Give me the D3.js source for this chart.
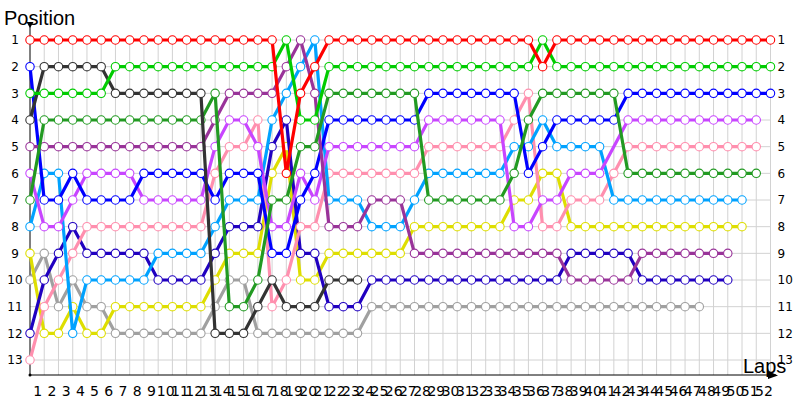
<!DOCTYPE html>
<html>
<head>
<meta charset="utf-8">
<script src="https://cdn.jsdelivr.net/npm/d3@7"></script>
<style>
  body { margin: 0; background: #fff; }
  #container { width: 800px; height: 400px; }
</style>
</head>
<body>
<div id="container"></div>
<script>

// laps on the x axis (0 = grid)
var lapTicks = [1,2,3,4,5,6,7,8,9,10,11,12,13,14,15,16,17,18,19,20,21,22,23,24,25,26,
  27,28,29,30,31,32,33,34,35,36,37,38,39,40,41,42,43,44,45,46,47,48,49,50,51,52]
var positionTicks = [1,2,3,4,5,6,7,8,9,10,11,12,13]

// position of each car from lap 0 onward (null = no reading)
var red = [1,1,1,1,1,1,1,1,1,1,1,1,1,1,1,1,1,1,6,3,2,1,1,1,1,1,1,1,1,1,1,1,1,1,1,1,2,
  1,1,1,1,1,1,1,1,1,1,1,1,1,1,1,1]
var green = [3,3,3,3,3,3,2,2,2,2,2,2,2,2,2,2,2,2,1,4,4,2,2,2,2,2,2,2,2,2,2,2,2,2,2,2,1,
  2,2,2,2,2,2,2,2,2,2,2,2,2,2,2,2]
var black = [4,2,2,2,2,2,3,3,3,3,3,3,3,12,12,12,11,10,11,11,11,10,10,10]
var darkGreen = [7,4,4,4,4,4,4,4,4,4,4,4,4,3,11,11,10,7,7,5,5,3,3,3,3,3,3,3,7,7,7,7,7,7,
  6,4,3,3,3,3,3,3,6,6,6,6,6,6,6,6,6,6]
var purple = [5,5,5,5,5,5,5,5,5,5,5,5,5,4,3,3,3,3,2,1,3,8,8,8,7,7,7,9,9,9,9,9,9,9,9,9,9,
  9,10,10,10,10,10,9,9,9,9,9,9,9]
var magenta = [6,8,8,7,6,6,6,6,7,7,7,7,7,5,4,4,5,8,8,6,7,5,5,5,5,5,5,5,4,4,4,4,4,4,8,8,
  7,7,6,6,6,null,4,4,4,4,4,4,4,4,4,4]
var blue = [2,7,7,6,7,7,7,7,6,6,6,6,6,7,6,6,6,9,9,7,6,4,4,4,4,4,4,4,3,3,3,3,3,3,3,6,5,
  4,4,4,4,4,3,3,3,3,3,3,3,3,3,3,3]
var lightBlue = [8,6,6,12,10,10,10,10,10,9,9,9,9,8,7,7,7,4,3,2,1,7,7,7,8,8,8,7,6,6,6,6,6,6,
  5,5,4,5,5,5,5,7,7,7,7,7,7,7,7,7,7]
var navy = [12,10,9,8,9,9,9,9,9,10,10,10,10,9,8,8,8,5,4,9,9,11,11,11,10,10,10,10,10,10,10,
  10,10,10,10,10,10,10,9,9,9,9,9,10,10,10,10,10,10,10]
var pink = [13,11,10,9,8,8,8,8,8,8,8,8,8,6,5,5,4,11,10,8,8,6,6,6,6,6,6,6,5,5,5,5,5,5,4,3,
  8,8,7,7,7,6,5,5,5,5,5,5,5,5,5,5]
var yellow = [9,12,12,11,12,12,11,11,11,11,11,11,11,10,9,9,9,6,5,10,10,9,9,9,9,9,9,8,8,8,8,
  8,8,8,7,7,6,6,8,8,8,8,8,8,8,8,8,8,8,8,8]
var grey = [10,9,11,10,11,11,12,12,12,12,12,12,12,11,10,10,12,12,12,12,12,12,12,12,11,11,
  11,11,11,11,11,11,11,11,11,11,11,11,11,11,11,11,11,11,11,11,11,11]

// draw order and colours
var cars = [
  {name: "grey", color: "#a0a0a0", laps: grey},
  {name: "yellow", color: "#dede00", laps: yellow},
  {name: "navy", color: "#2000c0", laps: navy},
  {name: "pink", color: "#ff8fae", laps: pink},
  {name: "lightBlue", color: "#00a2ff", laps: lightBlue},
  {name: "magenta", color: "#c845ff", laps: magenta},
  {name: "blue", color: "#0000ff", laps: blue},
  {name: "purple", color: "#993399", laps: purple},
  {name: "darkGreen", color: "#229a22", laps: darkGreen},
  {name: "black", color: "#333333", laps: black},
  {name: "green", color: "#00cc00", laps: green},
  {name: "red", color: "#ff0000", laps: red}
]

var width = 800
var height = 400
var axisY = 375

var x = d3.scaleLinear().domain([0, 52]).range([30, 770.5])
var y = d3.scaleLinear().domain([1, 13]).range([40, 360])
var step = x(1) - x(0)

var svg = d3.select("#container")
  .append("svg")
  .attr("width", width)
  .attr("height", height)

// grid
svg.append("g")
  .selectAll("line")
  .data(lapTicks)
  .enter()
  .append("line")
  .attr("x1", function(d){ return x(d) })
  .attr("x2", function(d){ return x(d) })
  .attr("y1", y(1))
  .attr("y2", axisY)
  .attr("stroke", "#d2d2d2")

svg.append("g")
  .selectAll("line")
  .data(positionTicks)
  .enter()
  .append("line")
  .attr("x1", x(0))
  .attr("x2", x(52))
  .attr("y1", function(d){ return y(d) })
  .attr("y2", function(d){ return y(d) })
  .attr("stroke", "#d2d2d2")

// axes
var xAxis = d3.axisBottom(x).tickValues(lapTicks).tickSize(0).tickPadding(11)
var gx = svg.append("g").attr("transform", "translate(0," + axisY + ")").call(xAxis)
gx.select(".domain").remove()
gx.selectAll("text")
  .attr("x", -step / 2)
  .attr("fill", "#000")
  .style("font-family", "DejaVu Sans")
  .style("font-size", "14px")

var yLeft = d3.axisLeft(y).tickValues(positionTicks).tickSize(0)
var gl = svg.append("g").attr("transform", "translate(" + x(0) + ",0)").call(yLeft)
gl.select(".domain").remove()
gl.selectAll("text")
  .attr("x", -15)
  .attr("text-anchor", "middle")
  .attr("fill", "#000")
  .style("font-family", "DejaVu Sans")
  .style("font-size", "12px")

var yRight = d3.axisRight(y).tickValues(positionTicks).tickSize(0).tickPadding(7)
var gr = svg.append("g").attr("transform", "translate(" + x(52) + ",0)").call(yRight)
gr.select(".domain").remove()
gr.selectAll("text")
  .attr("fill", "#000")
  .style("font-family", "DejaVu Sans")
  .style("font-size", "12px")

// axis lines with arrow heads
svg.append("line")
  .attr("x1", x(0)).attr("x2", x(0))
  .attr("y1", 24).attr("y2", axisY)
  .attr("stroke", "#000")
svg.append("line")
  .attr("x1", x(0)).attr("x2", 776)
  .attr("y1", axisY).attr("y2", axisY)
  .attr("stroke", "#000")
svg.append("path")
  .attr("d", "M26.5,22 L33.5,22 L30,28 Z")
  .attr("fill", "#000")
svg.append("path")
  .attr("d", "M768,371 L778,375.5 L768,379 Z")
  .attr("fill", "#000")
svg.append("circle")
  .attr("cx", x(0)).attr("cy", axisY).attr("r", 1.5)
  .attr("fill", "#000")

// titles
svg.append("text")
  .attr("x", 4).attr("y", 25)
  .style("font-family", "Liberation Sans")
  .style("font-size", "20px")
  .text("Position")
svg.append("text")
  .attr("x", 743).attr("y", 373)
  .style("font-family", "Liberation Sans")
  .style("font-size", "20px")
  .text("Laps")

// one line per car, joining the laps that have a reading
var line = d3.line()
  .x(function(d){ return x(d.lap) })
  .y(function(d){ return y(d.pos) })

cars.forEach(function(car){
  var points = car.laps
    .map(function(p, i){ return {lap: i, pos: p} })
    .filter(function(d){ return d.pos != null })

  var g = svg.append("g").attr("class", car.name)

  g.append("path")
    .datum(points)
    .attr("d", line)
    .attr("fill", "none")
    .attr("stroke", car.color)
    .attr("stroke-width", 3.2)
    .attr("stroke-linejoin", "round")

  g.selectAll("circle")
    .data(points)
    .enter()
    .append("circle")
    .attr("cx", function(d){ return x(d.lap) })
    .attr("cy", function(d){ return y(d.pos) })
    .attr("r", 4.2)
    .attr("fill", "#fff")
    .attr("stroke", car.color)
    .attr("stroke-width", 1.1)
})

</script>
</body>
</html>
